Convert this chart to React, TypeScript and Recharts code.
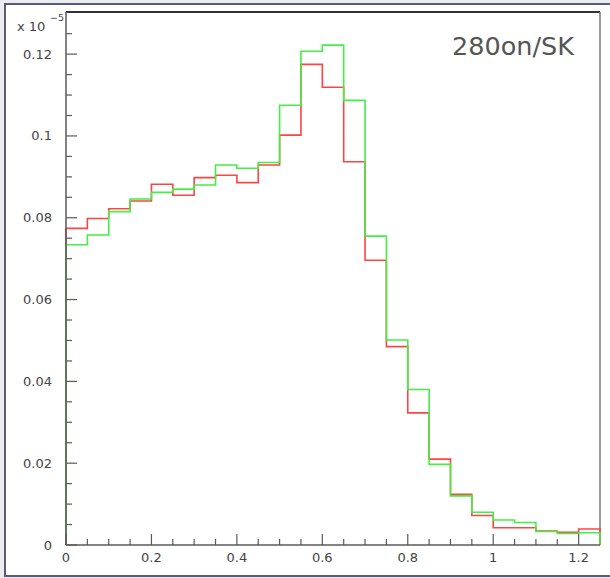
import { LineChart, Line, XAxis, YAxis, ReferenceLine } from "recharts";

// bin edges, width 0.05
const binEdges = [
  0, 0.05, 0.1, 0.15, 0.2, 0.25, 0.3, 0.35, 0.4, 0.45, 0.5, 0.55, 0.6,
  0.65, 0.7, 0.75, 0.8, 0.85, 0.9, 0.95, 1, 1.05, 1.1, 1.15, 1.2, 1.25,
];

// bin contents (x 10^-5)
const redValues = [
  0.0774, 0.0798, 0.0822, 0.0841, 0.0882, 0.0855, 0.0898, 0.0904, 0.0886,
  0.0929, 0.1002, 0.1175, 0.1119, 0.0937, 0.0696, 0.0485, 0.0323, 0.021,
  0.0124, 0.0072, 0.0042, 0.0042, 0.0034, 0.0031, 0.0039,
];
const greenValues = [
  0.0734, 0.0758, 0.0815, 0.0846, 0.0862, 0.087, 0.088, 0.0929, 0.0921,
  0.0935, 0.1075, 0.1207, 0.1222, 0.1087, 0.0755, 0.0501, 0.038, 0.0197,
  0.012, 0.008, 0.0061, 0.0055, 0.0033, 0.0028, 0.003,
];

const xTicks = binEdges.slice(0, 25);
const xMajorTicks = [0, 0.2, 0.4, 0.6, 0.8, 1, 1.2];
const xMajorLabels = ["0", "0.2", "0.4", "0.6", "0.8", "1", "1.2"];

const yTicks = [
  0, 0.005, 0.01, 0.015, 0.02, 0.025, 0.03, 0.035, 0.04, 0.045, 0.05, 0.055,
  0.06, 0.065, 0.07, 0.075, 0.08, 0.085, 0.09, 0.095, 0.1, 0.105, 0.11, 0.115,
  0.12, 0.125,
];
const yMajorTicks = [0, 0.02, 0.04, 0.06, 0.08, 0.1, 0.12];
const yMajorLabels = ["0", "0.02", "0.04", "0.06", "0.08", "0.1", "0.12"];

const yMax = 0.1303;
const font = "DejaVu Sans, sans-serif";
const tickColor = "#5a5a5a";

// histogram outline: start and end on zero
const rows = [
  { x: 0, red: 0, green: 0 },
  ...binEdges.slice(0, 25).map((x, i) => ({ x, red: redValues[i], green: greenValues[i] })),
  { x: 1.25, red: redValues[24], green: greenValues[24] },
  { x: 1.25, red: 0, green: 0 },
];

function majorIndex(list: number[], v: number) {
  return list.findIndex((m) => Math.abs(m - v) < 1e-6);
}

function YTick(props: any) {
  const { x, y, payload } = props;
  const i = majorIndex(yMajorTicks, payload.value);
  return (
    <g>
      <line x1={x} x2={x + (i >= 0 ? 11 : 6)} y1={y} y2={y} stroke={tickColor} strokeWidth={1.2} />
      {i >= 0 && (
        <text x={x - 14} y={y} dy={4.5} textAnchor="end" fontSize={13} fill="#444" fontFamily={font}>
          {yMajorLabels[i]}
        </text>
      )}
    </g>
  );
}

function XTick(props: any) {
  const { x, y, payload } = props;
  const i = majorIndex(xMajorTicks, payload.value);
  return (
    <g>
      <line x1={x} x2={x} y1={y} y2={y - (i >= 0 ? 11 : 6)} stroke={tickColor} strokeWidth={1.2} />
      {i >= 0 && (
        <text x={x} y={y + 17} textAnchor="middle" fontSize={13} fill="#444" fontFamily={font}>
          {xMajorLabels[i]}
        </text>
      )}
    </g>
  );
}

export default function App() {
  return (
    <div style={{ position: "absolute", left: 0, top: 0, width: 610, height: 578, background: "#ececee", overflow: "hidden" }}>
      {/* outer canvas frame */}
      <div
        style={{
          position: "absolute",
          left: 4,
          top: 3,
          width: 700,
          height: 574,
          boxSizing: "border-box",
          border: "2px solid #5a5a7c",
          background: "#fff",
        }}
      />
      <div style={{ position: "absolute", left: 0, top: 0 }}>
        <LineChart width={610} height={578} data={rows} margin={{ top: 12, right: 10, left: 65, bottom: 32 }}>
          <XAxis
            dataKey="x"
            type="number"
            domain={[0, 1.25]}
            ticks={xTicks}
            interval={0}
            height={1}
            tickSize={0}
            tickMargin={0}
            tickLine={false}
            tick={(p: any) => <XTick {...p} />}
            axisLine={{ stroke: tickColor, strokeWidth: 1.5 }}
          />
          <YAxis
            type="number"
            domain={[0, yMax]}
            ticks={yTicks}
            interval={0}
            width={1}
            tickSize={0}
            tickMargin={0}
            tickLine={false}
            tick={(p: any) => <YTick {...p} />}
            axisLine={{ stroke: tickColor, strokeWidth: 1.5 }}
          />
          <ReferenceLine y={yMax} stroke="#333" strokeWidth={2} />
          <ReferenceLine x={1.25} stroke="#777" strokeWidth={1.5} />
          <Line type="stepAfter" dataKey="red" stroke="#ff4444" strokeWidth={1.6} dot={false} isAnimationActive={false} />
          <Line type="stepAfter" dataKey="green" stroke="#44ee44" strokeWidth={1.6} dot={false} isAnimationActive={false} />
        </LineChart>
      </div>
      <svg width={610} height={578} style={{ position: "absolute", left: 0, top: 0, pointerEvents: "none" }}>
        <text x={17} y={31} fontSize={13} fill="#444" fontFamily={font}>
          x 10
        </text>
        <text x={50} y={21} fontSize={9.5} fill="#444" fontFamily={font}>
          −5
        </text>
        <text x={452} y={55} fontSize={25.5} fill="#555" fontFamily={font}>
          280on/SK
        </text>
      </svg>
    </div>
  );
}
